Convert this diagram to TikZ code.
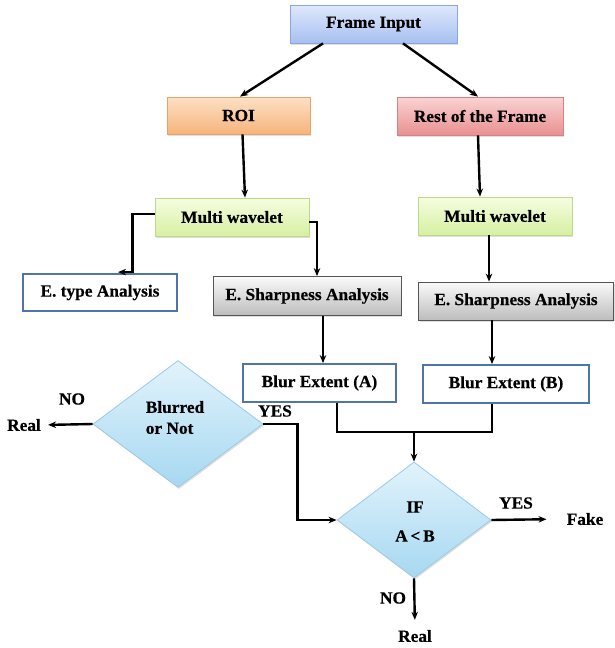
\documentclass[tikz,border=0pt]{standalone}
\usepackage{fontspec}
\setmainfont{Liberation Serif}[FakeStretch=1.02, BoldFeatures={FakeBold=0.5}]
\usetikzlibrary{shapes.geometric,arrows.meta,shadows}
\definecolor{fiT}{HTML}{DFE8FC}\definecolor{fiB}{HTML}{A7C0F0}\definecolor{fiD}{HTML}{8AA6DC}
\definecolor{roT}{HTML}{FDE0C5}\definecolor{roB}{HTML}{F6B47C}\definecolor{roD}{HTML}{E6A36A}
\definecolor{reT}{HTML}{FAD3D3}\definecolor{reB}{HTML}{E99090}\definecolor{reD}{HTML}{D98080}
\definecolor{mwT}{HTML}{F6FDE0}\definecolor{mwB}{HTML}{D6F0A2}\definecolor{mwD}{HTML}{BCD98A}
\definecolor{shT}{HTML}{FAFAFA}\definecolor{shB}{HTML}{BDBDBD}\definecolor{shD}{HTML}{555555}
\definecolor{plD}{HTML}{5075AA}
\definecolor{dmT}{HTML}{E2F3FC}\definecolor{dmB}{HTML}{A6D8F1}\definecolor{dmD}{HTML}{9CCAE4}
\begin{document}
\begin{tikzpicture}[x=1pt,y=-1pt,
  every node/.style={font=\bfseries\fontsize{17}{19}\selectfont, text=black},
  shad/.style={drop shadow={opacity=0.25,shadow xshift=1.2pt,shadow yshift=-1.5pt}},
  gbox/.style={rectangle, inner sep=0pt, shad, line width=0.8pt},
  fibox/.style={gbox, draw=fiD, top color=fiT, bottom color=fiB},
  robox/.style={gbox, draw=roD, top color=roT, bottom color=roB},
  rebox/.style={gbox, draw=reD, top color=reT, bottom color=reB},
  mwbox/.style={gbox, draw=mwD, top color=mwT, bottom color=mwB},
  shbox/.style={gbox, draw=shD, top color=shT, bottom color=shB},
  plbox/.style={rectangle, inner sep=0pt, draw=plD, line width=1.8pt, fill=white},
  dm/.style={diamond, inner sep=0pt, draw=dmD, line width=0.8pt, top color=dmT, bottom color=dmB, shad},
  lab/.style={inner sep=2pt},
  arr/.style={line width=2.4pt, -{Stealth[length=8pt,width=6.5pt]}},
  ln/.style={line width=2.4pt}]
\useasboundingbox (0,0) rectangle (614,648);
\fill[white] (0,0) rectangle (614,648);

\node[fibox, minimum width=167pt, minimum height=38pt] (fi) at (373.5,24) {Frame Input};
\node[robox, minimum width=143pt, minimum height=37pt] (roi) at (238.5,115.5) {ROI};
\node[rebox, minimum width=166pt, minimum height=38pt] (rest) at (480,116) {Rest of the Frame};
\node[mwbox, minimum width=154pt, minimum height=38pt] (mw1) at (232,217) {Multi wavelet};
\node[mwbox, minimum width=154pt, minimum height=38pt] (mw2) at (495,216) {Multi wavelet};
\node[plbox, minimum width=154pt, minimum height=37pt] (et) at (100,292.5) {E. type Analysis};
\node[shbox, minimum width=188pt, minimum height=39pt] (es1) at (307,296) {E. Sharpness Analysis};
\node[shbox, minimum width=195pt, minimum height=38pt] (es2) at (516,301) {E. Sharpness Analysis};
\node[plbox, minimum width=153pt, minimum height=38pt] (ba) at (319.5,383) {Blur Extent (A)};
\node[plbox, minimum width=166pt, minimum height=38pt] (bb) at (506,384) {Blur Extent (B)};

\node[dm, minimum width=170pt, minimum height=127pt] (d1) at (178,424) {};
\node[align=left, inner sep=0pt, font=\bfseries\fontsize{17}{21}\selectfont] (d1t) at (175,417.5) {Blurred\\or Not};
\node[dm, minimum width=154pt, minimum height=116pt] (d2) at (414,520) {};
\node[align=center, inner sep=0pt, font=\bfseries\fontsize{17}{29}\selectfont] (d2t) at (415,521.5) {IF\\A\,<\,B};

\node[lab] (no1) at (72,399) {NO};
\node[lab] (real1) at (24,425) {Real};
\node[lab] (yes1) at (275,411) {YES};
\node[lab] (yes2) at (516,503) {YES};
\node[lab] (fake) at (585,519) {Fake};
\node[lab] (no2) at (393,598) {NO};
\node[lab] (real2) at (415,636) {Real};

\coordinate (j) at (414,432);

% connectors
\draw[arr] ([xshift=-50.5pt]fi.south) -- ([xshift=1.5pt]roi.north);
\draw[arr] ([xshift=29.5pt]fi.south) -- ([xshift=-2pt]rest.north);
\draw[arr] ([xshift=4pt]roi.south) -- ([xshift=13pt]mw1.north);
\draw[arr] ([xshift=-2pt]rest.south) -- ([xshift=-15pt]mw2.north);
\draw[arr] ([yshift=3pt]mw1.west) -- ++(-22,0) |- ([xshift=18pt,yshift=1pt]et.north);
\draw[arr] ([yshift=-5pt]mw1.east) -| ([xshift=10pt]es1.north);
\draw[arr] ([xshift=-6pt]mw2.south) -- ([xshift=-6pt]mw2.south |- es2.north);
\draw[arr] ([xshift=16pt]es1.south) -- ([xshift=16pt]es1.south |- ba.north);
\draw[arr] ([xshift=-24pt]es2.south) -- ([xshift=-24pt]es2.south |- bb.north);
\draw[ln] ([xshift=17.5pt]ba.south) |- (j);
\draw[ln] ([xshift=-14pt]bb.south) |- (j);
\draw[arr] (j) -- (d2.north);
\draw[arr, shorten >=5pt] (d1.west) -- (real1.east);
\draw[arr] (d1.east) -- ++(34,0) |- (d2.west);
\draw[arr, shorten >=18pt] (d2.east) -- (fake.west);
\draw[arr, shorten >=8pt] (d2.south) -- (real2.north);
\end{tikzpicture}
\end{document}
